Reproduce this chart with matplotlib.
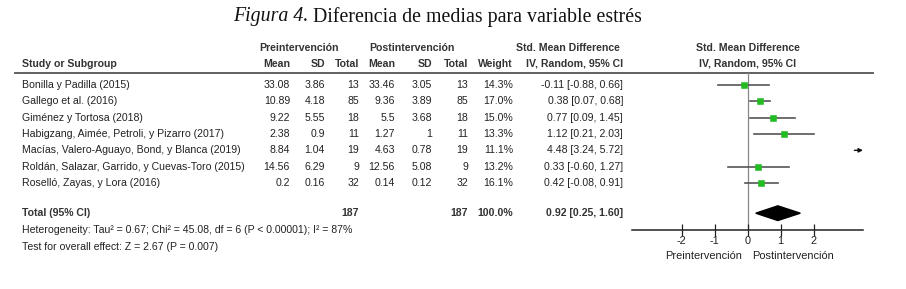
import matplotlib
matplotlib.use("Agg")
import matplotlib.pyplot as plt

# study data
studies = ["Bonilla y Padilla (2015)", "Gallego et al. (2016)", "Giménez y Tortosa (2018)",
           "Habigzang, Aimée, Petroli, y Pizarro (2017)",
           "Macías, Valero-Aguayo, Bond, y Blanca (2019)",
           "Roldán, Salazar, Garrido, y Cuevas-Toro (2015)", "Roselló, Zayas, y Lora (2016)"]
pre_mean = ["33.08", "10.89", "9.22", "2.38", "8.84", "14.56", "0.2"]
pre_sd = ["3.86", "4.18", "5.55", "0.9", "1.04", "6.29", "0.16"]
pre_n = [13, 85, 18, 11, 19, 9, 32]
post_mean = ["33.46", "9.36", "5.5", "1.27", "4.63", "12.56", "0.14"]
post_sd = ["3.05", "3.89", "3.68", "1", "0.78", "5.08", "0.12"]
post_n = [13, 85, 18, 11, 19, 9, 32]
weight = [14.3, 17.0, 15.0, 13.3, 11.1, 13.2, 16.1]
smd = [-0.11, 0.38, 0.77, 1.12, 4.48, 0.33, 0.42]
ci_lo = [-0.88, 0.07, 0.09, 0.21, 3.24, -0.60, -0.08]
ci_hi = [0.66, 0.68, 1.45, 2.03, 5.72, 1.27, 0.91]
total_smd, total_lo, total_hi = 0.92, 0.25, 1.60
ticks = [-2, -1, 0, 1, 2]

W, H = 906, 289
fig = plt.figure(figsize=(W / 100, H / 100), dpi=100)
fig.patch.set_facecolor("white")

sans = ["Liberation Sans", "DejaVu Sans"]
serif = ["Liberation Serif", "DejaVu Serif"]
fs = 7.6
txtc = "#222222"

ax = fig.add_axes([0, 0, 1, 1])
ax.set_xlim(0, W)
ax.set_ylim(H, 0)
ax.axis("off")

row0, dy = 85, 16.33
total_row = 7.85


def ry(i):
    return row0 + dy * i


def t(x, y, s, ha="right", bold=False, size=fs, color=txtc):
    return ax.text(x, y, s, ha=ha, va="center", fontsize=size, family=sans,
                   fontweight="bold" if bold else "normal", color=color)


# title: italic part first, rest placed right after it
ttl = ax.text(233, 17, "Figura 4.", ha="left", va="center", fontsize=14.3, family=serif,
              style="italic", color="#111111")
r = fig.canvas.get_renderer()
bb = ttl.get_window_extent(renderer=r)
ax.text(bb.x1 + 5, 17, "Diferencia de medias para variable estrés", ha="left", va="center",
        fontsize=14.3, family=serif, color="#111111")

# headers
hc = "#333333"
t(299, 48, "Preintervención", ha="center", bold=True, color=hc)
t(412, 48, "Postintervención", ha="center", bold=True, color=hc)
t(568, 48, "Std. Mean Difference", ha="center", bold=True, color=hc)
t(748, 48, "Std. Mean Difference", ha="center", bold=True, color=hc)
t(22, 64, "Study or Subgroup", ha="left", bold=True, color=hc)
cols = [(290, "Mean"), (325, "SD"), (359, "Total"), (395, "Mean"), (432, "SD"),
        (468, "Total"), (513, "Weight"), (623, "IV, Random, 95% CI")]
for x, s in cols:
    t(x, 64, s, bold=True, color=hc)
t(748, 64, "IV, Random, 95% CI", ha="center", bold=True, color=hc)
ax.plot([15, 873], [73, 73], color="#555555", lw=1.3)

# study rows
for i, name in enumerate(studies):
    y = ry(i)
    t(22, y, name, ha="left")
    t(290, y, pre_mean[i])
    t(325, y, pre_sd[i])
    t(359, y, str(pre_n[i]))
    t(395, y, post_mean[i])
    t(432, y, post_sd[i])
    t(468, y, str(post_n[i]))
    t(513, y, f"{weight[i]:.1f}%")
    t(623, y, f"{smd[i]:.2f} [{ci_lo[i]:.2f}, {ci_hi[i]:.2f}]")

# total row
yt = ry(total_row)
t(22, yt, "Total (95% CI)", ha="left", bold=True, color=hc)
t(359, yt, str(sum(pre_n)), bold=True, color=hc)
t(468, yt, str(sum(post_n)), bold=True, color=hc)
t(513, yt, "100.0%", bold=True, color=hc)
t(623, yt, f"{total_smd:.2f} [{total_lo:.2f}, {total_hi:.2f}]", bold=True, color=hc)
t(22, 230, "Heterogeneity: Tau² = 0.67; Chi² = 45.08, df = 6 (P < 0.00001); I² = 87%", ha="left")
t(22, 247, "Test for overall effect: Z = 2.67 (P = 0.007)", ha="left")

# forest plot axes
x0, x1, ytop, ybot = 632, 863, 73, 230
fa = fig.add_axes([x0 / W, (H - ybot) / H, (x1 - x0) / W, (ybot - ytop) / H])
fa.patch.set_alpha(0)
fa.set_xlim(-3.5, 3.5)
fa.set_ylim((ybot - row0) / dy, (ytop - row0) / dy)
for s in ["left", "right", "top"]:
    fa.spines[s].set_visible(False)
fa.spines["bottom"].set_color("#222222")
fa.spines["bottom"].set_linewidth(1.1)
fa.set_yticks([])
fa.set_xticks(ticks)
fa.set_xticklabels([str(v) for v in ticks], family=sans, fontsize=fs + 0.3, color=txtc)
fa.tick_params(axis="x", direction="inout", length=8, width=0.9, pad=0, colors="#222222")
fa.axvline(0, color="#888888", lw=0.9, zorder=1)

for i in range(len(studies)):
    if ci_hi[i] > 3.5:
        fa.annotate("", xy=(3.5, i), xytext=(ci_lo[i], i),
                    arrowprops=dict(arrowstyle="-|>", color="#111111", lw=1,
                                    mutation_scale=6, shrinkA=0, shrinkB=0))
    else:
        fa.plot([ci_lo[i], ci_hi[i]], [i, i], color="#555555", lw=1.2, zorder=2)
        fa.plot(smd[i], i, marker="s", ms=0.2 * weight[i] + 1.4, color="#22bb22",
                mec="#22bb22", mew=0.4, zorder=3)

h = 0.45
fa.fill([total_lo, total_smd, total_hi, total_smd],
        [total_row, total_row - h, total_row, total_row + h], color="black", zorder=3)

t(742, 256, "Preintervención", size=fs + 0.3)
t(752, 256, "Postintervención", ha="left", size=fs + 0.3)

fig.savefig("out.png", dpi=100)
